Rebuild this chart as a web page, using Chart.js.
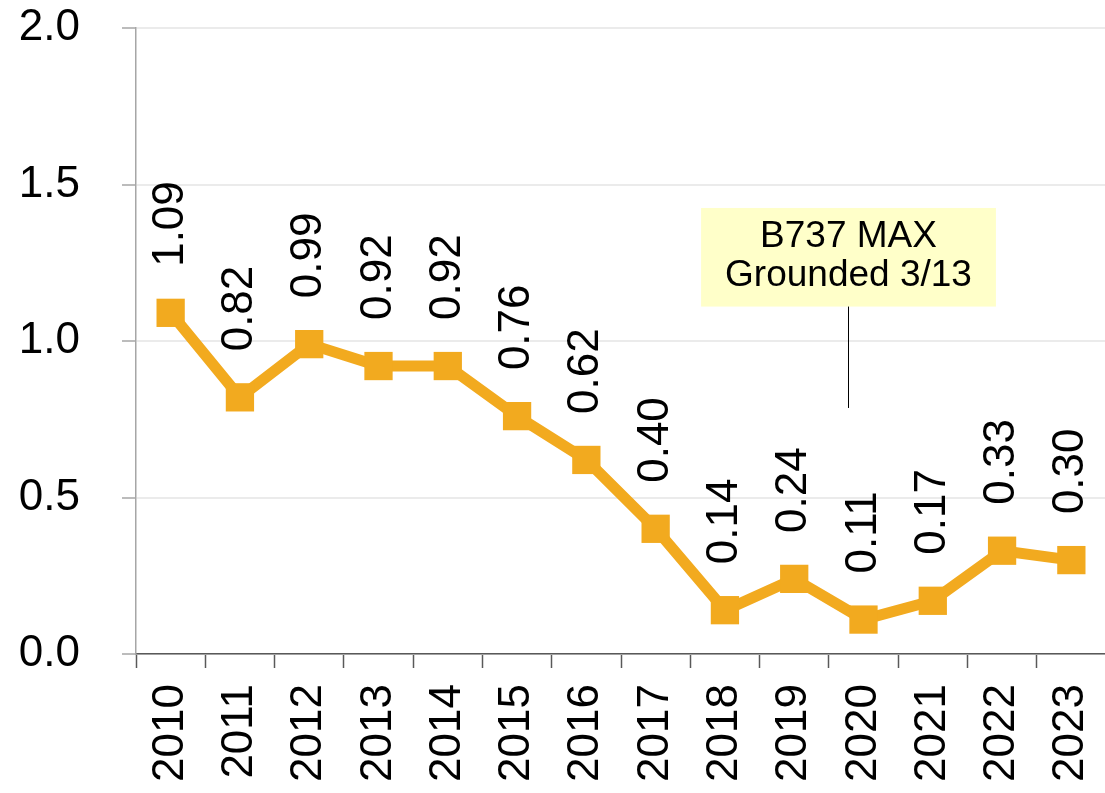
<!DOCTYPE html>
<html>
<head>
<meta charset="utf-8">
<script src="https://cdn.jsdelivr.net/npm/chart.js@4.4.1/dist/chart.umd.min.js"></script>
<style>
  html, body { margin: 0; padding: 0; background: #ffffff; overflow: hidden; }
  /* the plot runs right up to (and just past) the window's right edge */
  #wrap { width: 1126px; height: 793px; position: relative; }
</style>
</head>
<body>
<div id="wrap"><canvas id="c"></canvas></div>
<script>
// Yearly rate, 2010–2023
const years = ['2010', '2011', '2012', '2013', '2014', '2015', '2016',
               '2017', '2018', '2019', '2020', '2021', '2022', '2023'];
const rates = [1.09, 0.82, 0.99, 0.92, 0.92, 0.76, 0.62,
               0.40, 0.14, 0.24, 0.11, 0.17, 0.33, 0.30];
const rateLabels = ['1.09', '0.82', '0.99', '0.92', '0.92', '0.76', '0.62',
                    '0.40', '0.14', '0.24', '0.11', '0.17', '0.33', '0.30'];

// Callout: 737 MAX grounding (mid-March 2020)
const calloutLines = ['B737 MAX', 'Grounded 3/13'];
const calloutYear = 9.78;          // category position, a little before the 2020 midpoint
const calloutBoxTop = 1.425;       // y-values of the callout box and its leader
const calloutBoxBottom = 1.11;
const calloutLeaderEnd = 0.786;

const FONT = 'Arial, "Liberation Sans", sans-serif';
const LINE_COLOR = '#F2AA1F';

// Rotated value labels above each point
const valueLabels = {
  id: 'valueLabels',
  afterDatasetsDraw(chart) {
    const ctx = chart.ctx;
    const meta = chart.getDatasetMeta(0);
    ctx.save();
    ctx.font = '44px ' + FONT;
    ctx.fillStyle = '#000000';
    ctx.textAlign = 'left';
    ctx.textBaseline = 'middle';
    meta.data.forEach((pt, i) => {
      ctx.save();
      ctx.translate(pt.x, pt.y - 46);
      ctx.rotate(-Math.PI / 2);
      ctx.fillText(rateLabels[i], 0, 0);
      ctx.restore();
    });
    ctx.restore();
  }
};

// Callout box with leader line
const callout = {
  id: 'callout',
  afterDatasetsDraw(chart) {
    const ctx = chart.ctx;
    const xs = chart.scales.x, ys = chart.scales.y;
    const cx = Math.round(xs.getPixelForValue(calloutYear)) + 0.5;
    const top = ys.getPixelForValue(calloutBoxTop);
    const bottom = ys.getPixelForValue(calloutBoxBottom);
    const leaderEnd = ys.getPixelForValue(calloutLeaderEnd);
    ctx.save();
    ctx.font = '37px ' + FONT;
    const w = Math.max(...calloutLines.map(t => ctx.measureText(t).width)) + 48;
    ctx.fillStyle = '#FFFFC9';
    ctx.fillRect(cx - w / 2, top, w, bottom - top);
    ctx.strokeStyle = '#000000';
    ctx.lineWidth = 1;
    ctx.beginPath();
    ctx.moveTo(cx, bottom);
    ctx.lineTo(cx, leaderEnd);
    ctx.stroke();
    ctx.fillStyle = '#000000';
    ctx.textAlign = 'center';
    ctx.textBaseline = 'middle';
    const h = bottom - top;
    ctx.fillText(calloutLines[0], cx, top + h * 0.29);
    ctx.fillText(calloutLines[1], cx, top + h * 0.69);
    ctx.restore();
  }
};

new Chart(document.getElementById('c'), {
  type: 'line',
  data: {
    labels: years,
    datasets: [{
      data: rates,
      borderColor: LINE_COLOR,
      backgroundColor: LINE_COLOR,
      borderWidth: 11,
      pointStyle: 'rect',
      pointRadius: 20,
      pointHoverRadius: 20,
      pointBorderWidth: 0,
      tension: 0,
      borderJoinStyle: 'miter'
    }]
  },
  options: {
    responsive: true,
    maintainAspectRatio: false,
    animation: false,
    events: [],
    layout: { padding: { top: 28, right: 0, bottom: 0, left: 0 } },
    plugins: { legend: { display: false }, tooltip: { enabled: false } },
    scales: {
      x: {
        offset: true,
        grid: { display: true, offset: true, drawOnChartArea: false, tickLength: 14,
                tickColor: '#595959', tickWidth: 1.5 },
        border: { color: '#595959', width: 1.5 },
        ticks: { color: '#000000', font: { family: FONT, size: 44 },
                 minRotation: 90, maxRotation: 90, padding: 16, autoSkip: false },
        afterFit(s) { s.height = 139; s.paddingLeft = 0; s.paddingRight = 0; }
      },
      y: {
        min: 0, max: 2.0,
        grid: { color: '#EBEBEB', lineWidth: 2, tickLength: 14, tickColor: '#A6A6A6', tickWidth: 1.5 },
        border: { color: '#A6A6A6', width: 1.5 },
        ticks: { stepSize: 0.5, color: '#000000', font: { family: FONT, size: 44 },
                 padding: 42, callback: v => v.toFixed(1) },
        afterFit(s) { s.width = 136; s.paddingTop = 0; s.paddingBottom = 0; }
      }
    }
  },
  plugins: [valueLabels, callout]
});
</script>
</body>
</html>
